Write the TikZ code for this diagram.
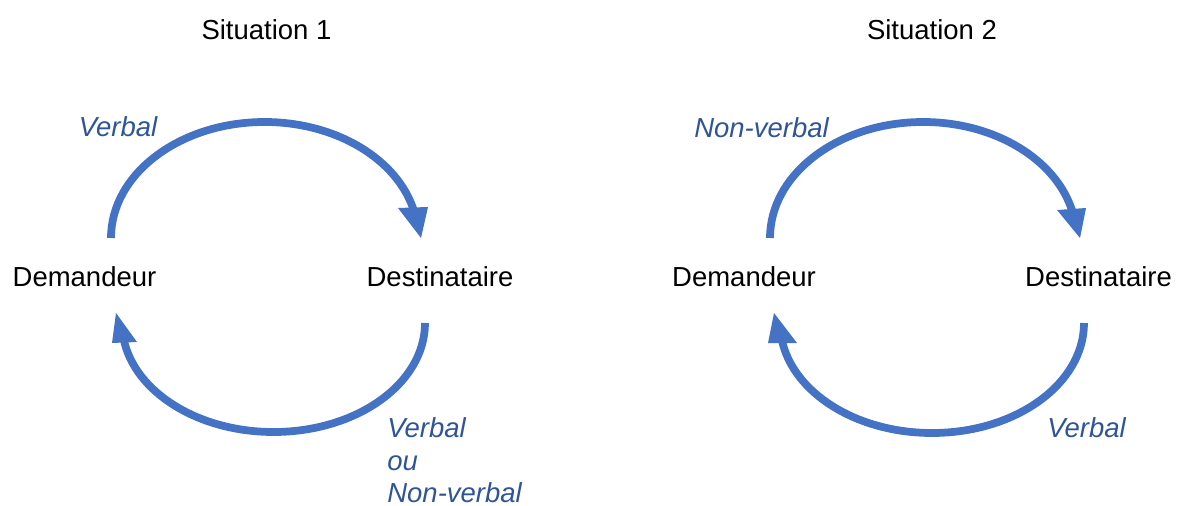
\documentclass[tikz,border=0pt]{standalone}
\usepackage{fontspec}
\setmainfont{Liberation Sans}
\definecolor{arrowblue}{HTML}{4472C4}
\definecolor{labelblue}{HTML}{2F5597}
\begin{document}
\begin{tikzpicture}[x=0.02cm,y=-0.02cm,
  txt/.style={font=\fontsize{15.65}{18.8}\selectfont, inner sep=0pt, anchor=base},
  lbl/.style={txt, font=\fontsize{15.65}{18.8}\selectfont\itshape, text=labelblue},
  arcline/.style={draw=arrowblue, line width=0.155cm},
  head/.style={fill=arrowblue}]
\useasboundingbox (0,0) rectangle (1179,506);

% titles
\node[txt] (t1) at (266.5,40) {Situation 1};
\node[txt] (t2) at (932,40) {Situation 2};

% parties
\node[txt] (dem1) at (84.5,287) {Demandeur};
\node[txt] (dest1) at (440,287) {Destinataire};
\node[txt] (dem2) at (744,287) {Demandeur};
\node[txt] (dest2) at (1098.5,287) {Destinataire};

% labels
\node[lbl] (l1) at (118,137) {Verbal};
\node[lbl, anchor=base west] (l2a) at (387,437) {Verbal};
\node[lbl, anchor=base west] (l2b) at (387,470) {ou};
\node[lbl, anchor=base west] (l2c) at (387,502) {Non-verbal};
\node[lbl] (l3) at (761.5,138) {Non-verbal};
\node[lbl] (l4) at (1086.5,437) {Verbal};

% situation 1 arcs
\coordinate (s1) at (111,238);
\draw[arcline] (s1) arc[start angle=180, end angle=347, x radius=153.6, y radius=116];
\fill[head] (398,208) -- (428,207) -- (421,238) -- cycle;

\coordinate (s2) at (425,323);
\draw[arcline] (s2) arc[start angle=0, end angle=171.5, x radius=151.5, y radius=109];
\fill[head] (116,313) -- (112,343) -- (137,342) -- cycle;

% situation 2 arcs
\coordinate (s3) at (770,238);
\draw[arcline] (s3) arc[start angle=180, end angle=347.5, x radius=153.2, y radius=116];
\fill[head] (1057,210) -- (1086,208) -- (1080,238) -- cycle;

\coordinate (s4) at (1084,323);
\draw[arcline] (s4) arc[start angle=0, end angle=171.5, x radius=152, y radius=110];
\fill[head] (774,313) -- (768,343) -- (797,343) -- cycle;
\end{tikzpicture}
\end{document}
